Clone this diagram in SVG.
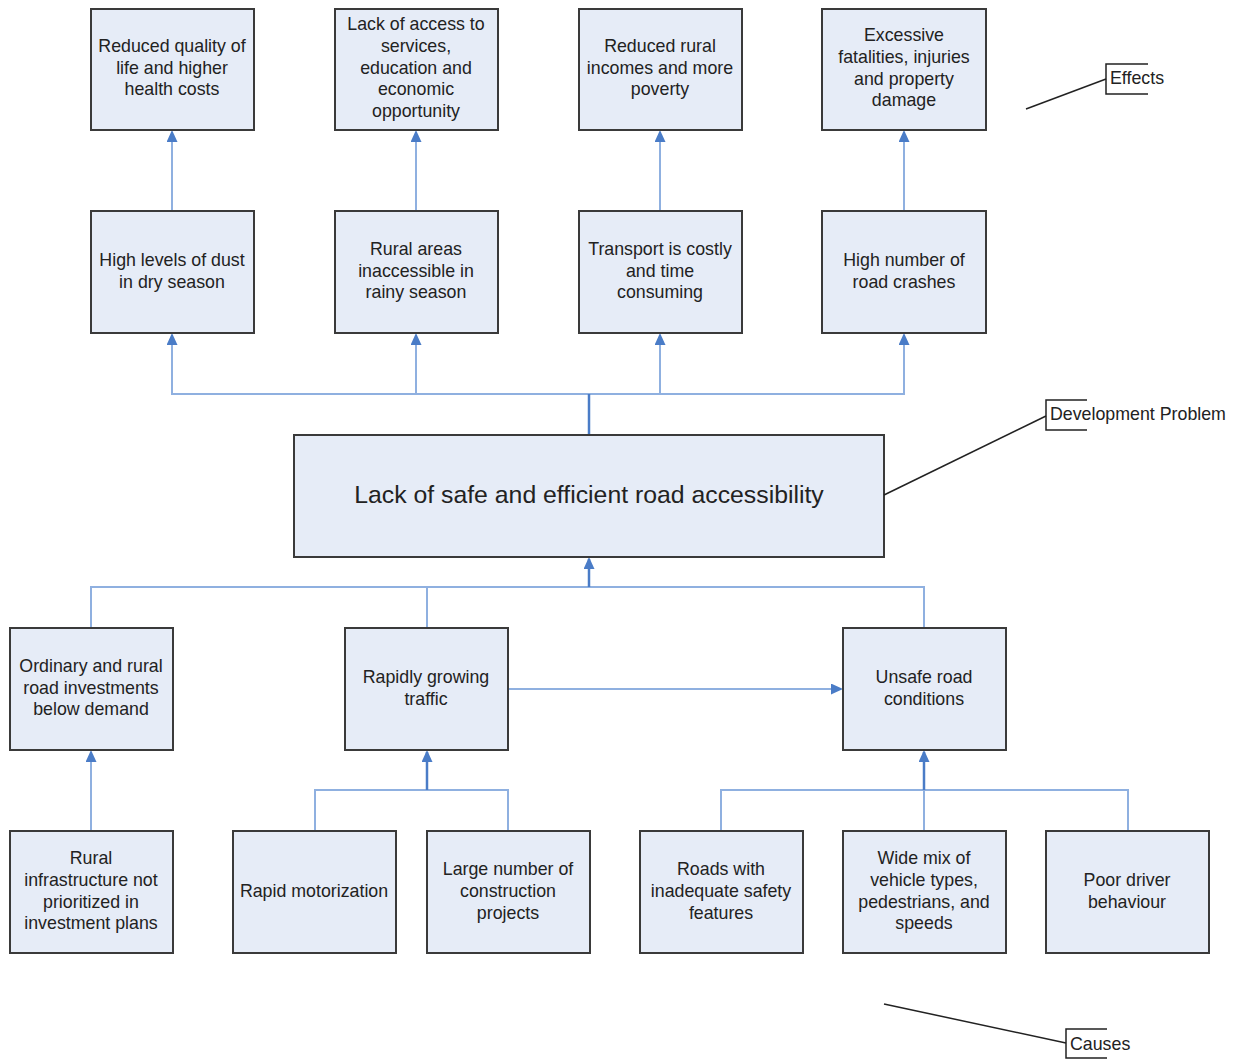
<svg xmlns="http://www.w3.org/2000/svg" width="1239" height="1062" viewBox="0 0 1239 1062">
<style>
.box{fill:#E6ECF7;stroke:#3a3a3a;stroke-width:2}
.t{font-family:"Liberation Sans",Arial,sans-serif;font-size:17.8px;fill:#222;text-anchor:middle}
.big{font-size:24.8px}
.c{fill:none;stroke:#8FB0E0;stroke-width:2}
.k{fill:none;stroke:#4A7CC7;stroke-width:2.5}
.a{fill:none;stroke:#222;stroke-width:1.5}
.lbl{font-family:"Liberation Sans",Arial,sans-serif;font-size:17.8px;fill:#222}
</style>
<defs>
<marker id="ah" markerWidth="12" markerHeight="11" refX="10" refY="5.5" orient="auto" markerUnits="userSpaceOnUse"><path d="M0,0 L12,5.5 L0,11 z" fill="#4A7CC7"/></marker>
</defs>
<g id="connectors">
<line class="c" x1="172" y1="211" x2="172" y2="132" marker-end="url(#ah)"/>
<line class="c" x1="416" y1="211" x2="416" y2="132" marker-end="url(#ah)"/>
<line class="c" x1="660" y1="211" x2="660" y2="132" marker-end="url(#ah)"/>
<line class="c" x1="904" y1="211" x2="904" y2="132" marker-end="url(#ah)"/>
<polyline class="c" points="172,335 172,394 904,394 904,335"/>
<line class="c" x1="172" y1="394" x2="172" y2="335" marker-end="url(#ah)"/>
<line class="c" x1="416" y1="394" x2="416" y2="335" marker-end="url(#ah)"/>
<line class="c" x1="660" y1="394" x2="660" y2="335" marker-end="url(#ah)"/>
<line class="c" x1="904" y1="394" x2="904" y2="335" marker-end="url(#ah)"/>
<line class="k" x1="589" y1="435" x2="589" y2="394"/>
<polyline class="c" points="91,628 91,587 924,587 924,628"/>
<line class="c" x1="427" y1="587" x2="427" y2="628"/>
<line class="k" x1="589" y1="587" x2="589" y2="559" marker-end="url(#ah)"/>
<line class="c" x1="508" y1="689" x2="841" y2="689" marker-end="url(#ah)"/>
<line class="c" x1="91" y1="831" x2="91" y2="752" marker-end="url(#ah)"/>
<polyline class="c" points="315,831 315,790 508,790 508,831"/>
<line class="k" x1="427" y1="790" x2="427" y2="752" marker-end="url(#ah)"/>
<polyline class="c" points="721,831 721,790 1128,790 1128,831"/>
<line class="c" x1="924" y1="831" x2="924" y2="790"/>
<line class="k" x1="924" y1="790" x2="924" y2="752" marker-end="url(#ah)"/>
</g>
<g id="n-e1"><rect class="box" x="91" y="9" width="163" height="121"/><text class="t"><tspan x="172" y="52">Reduced quality of</tspan><tspan x="172" y="74">life and higher</tspan><tspan x="172" y="95">health costs</tspan></text></g>
<g id="n-e2"><rect class="box" x="335" y="9" width="163" height="121"/><text class="t"><tspan x="416" y="30">Lack of access to</tspan><tspan x="416" y="52">services,</tspan><tspan x="416" y="74">education and</tspan><tspan x="416" y="95">economic</tspan><tspan x="416" y="117">opportunity</tspan></text></g>
<g id="n-e3"><rect class="box" x="579" y="9" width="163" height="121"/><text class="t"><tspan x="660" y="52">Reduced rural</tspan><tspan x="660" y="74">incomes and more</tspan><tspan x="660" y="95">poverty</tspan></text></g>
<g id="n-e4"><rect class="box" x="822" y="9" width="164" height="121"/><text class="t"><tspan x="904" y="41">Excessive</tspan><tspan x="904" y="63">fatalities, injuries</tspan><tspan x="904" y="85">and property</tspan><tspan x="904" y="106">damage</tspan></text></g>
<g id="n-m1"><rect class="box" x="91" y="211" width="163" height="122"/><text class="t"><tspan x="172" y="266">High levels of dust</tspan><tspan x="172" y="288">in dry season</tspan></text></g>
<g id="n-m2"><rect class="box" x="335" y="211" width="163" height="122"/><text class="t"><tspan x="416" y="255">Rural areas</tspan><tspan x="416" y="277">inaccessible in</tspan><tspan x="416" y="298">rainy season</tspan></text></g>
<g id="n-m3"><rect class="box" x="579" y="211" width="163" height="122"/><text class="t"><tspan x="660" y="255">Transport is costly</tspan><tspan x="660" y="277">and time</tspan><tspan x="660" y="298">consuming</tspan></text></g>
<g id="n-m4"><rect class="box" x="822" y="211" width="164" height="122"/><text class="t"><tspan x="904" y="266">High number of</tspan><tspan x="904" y="288">road crashes</tspan></text></g>
<g id="n-core"><rect class="box" x="294" y="435" width="590" height="122"/><text class="t big" x="589" y="503">Lack of safe and efficient road accessibility</text></g>
<g id="n-c1"><rect class="box" x="10" y="628" width="163" height="122"/><text class="t"><tspan x="91" y="672">Ordinary and rural</tspan><tspan x="91" y="694">road investments</tspan><tspan x="91" y="715">below demand</tspan></text></g>
<g id="n-c2"><rect class="box" x="345" y="628" width="163" height="122"/><text class="t"><tspan x="426" y="683">Rapidly growing</tspan><tspan x="426" y="705">traffic</tspan></text></g>
<g id="n-c3"><rect class="box" x="843" y="628" width="163" height="122"/><text class="t"><tspan x="924" y="683">Unsafe road</tspan><tspan x="924" y="705">conditions</tspan></text></g>
<g id="n-r1"><rect class="box" x="10" y="831" width="163" height="122"/><text class="t"><tspan x="91" y="864">Rural</tspan><tspan x="91" y="886">infrastructure not</tspan><tspan x="91" y="908">prioritized in</tspan><tspan x="91" y="929">investment plans</tspan></text></g>
<g id="n-r2"><rect class="box" x="233" y="831" width="163" height="122"/><text class="t" x="314" y="897">Rapid motorization</text></g>
<g id="n-r3"><rect class="box" x="427" y="831" width="163" height="122"/><text class="t"><tspan x="508" y="875">Large number of</tspan><tspan x="508" y="897">construction</tspan><tspan x="508" y="919">projects</tspan></text></g>
<g id="n-r4"><rect class="box" x="640" y="831" width="163" height="122"/><text class="t"><tspan x="721" y="875">Roads with</tspan><tspan x="721" y="897">inadequate safety</tspan><tspan x="721" y="919">features</tspan></text></g>
<g id="n-r5"><rect class="box" x="843" y="831" width="163" height="122"/><text class="t"><tspan x="924" y="864">Wide mix of</tspan><tspan x="924" y="886">vehicle types,</tspan><tspan x="924" y="908">pedestrians, and</tspan><tspan x="924" y="929">speeds</tspan></text></g>
<g id="n-r6"><rect class="box" x="1046" y="831" width="163" height="122"/><text class="t"><tspan x="1127" y="886">Poor driver</tspan><tspan x="1127" y="908">behaviour</tspan></text></g>
<g id="ann-effects"><line class="a" x1="1026" y1="109" x2="1106" y2="79"/><polyline class="a" points="1148,64 1106,64 1106,94 1148,94"/><text class="lbl" x="1110" y="84">Effects</text></g>
<g id="ann-problem"><line class="a" x1="884" y1="495" x2="1046" y2="416"/><polyline class="a" points="1087,400 1046,400 1046,430 1087,430"/><text class="lbl" x="1050" y="420">Development Problem</text></g>
<g id="ann-causes"><line class="a" x1="884" y1="1004" x2="1066" y2="1043"/><polyline class="a" points="1107,1029 1066,1029 1066,1058 1107,1058"/><text class="lbl" x="1070" y="1050">Causes</text></g>
</svg>
